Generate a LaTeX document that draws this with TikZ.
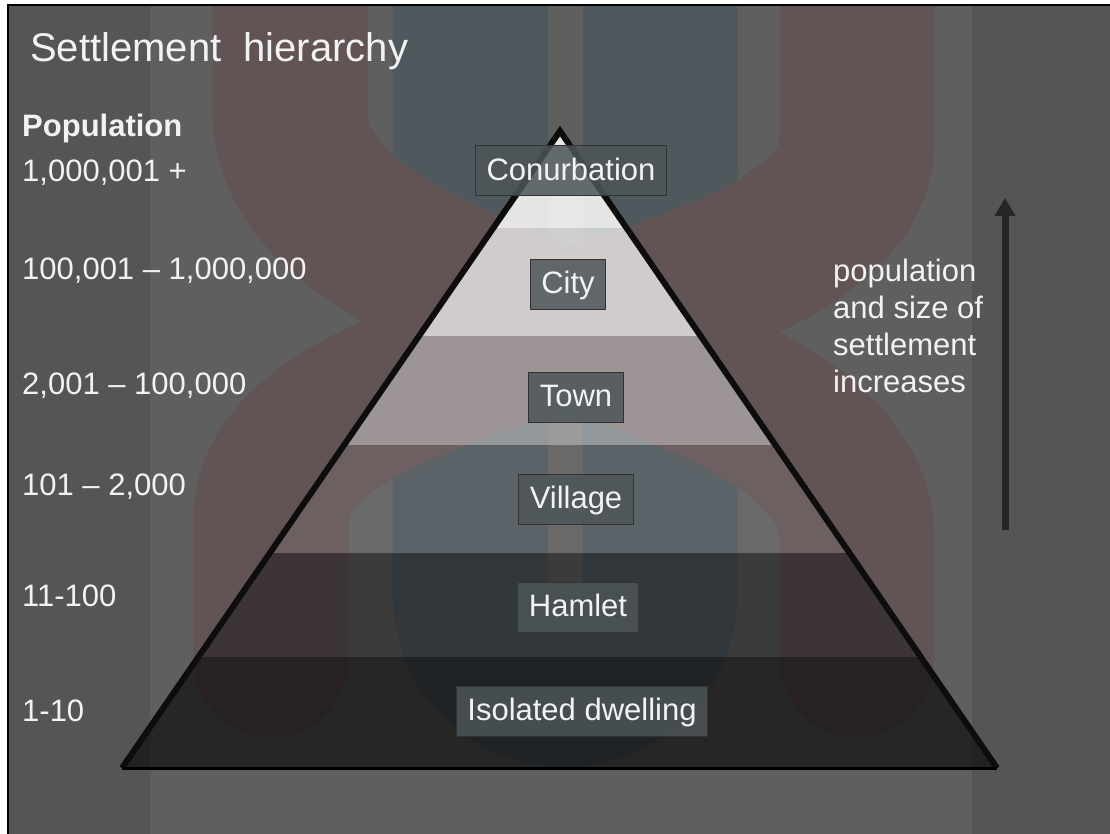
\documentclass[tikz,border=0pt]{standalone}
\usepackage{fontspec}
\setmainfont{Liberation Sans}
\usepackage{tikz}
\usetikzlibrary{
    arrows.meta,
    calc,
    positioning
}
\definecolor{slide}{HTML}{5F5F5F}
\definecolor{slideedge}{HTML}{555555}
\definecolor{ribbonred}{HTML}{625454}
\definecolor{ribbonblue}{HTML}{4F585D}
\definecolor{labelbox}{HTML}{4D5559}
\definecolor{paper}{HTML}{F2F2F2}
\tikzset{
    settle/.style={draw=black!80, line width=1pt, fill=labelbox, fill opacity=0.85, text opacity=1,
        text=paper, font=\fontsize{31}{37}\selectfont, inner xsep=11pt, inner ysep=0pt,
        text height=22pt, text depth=3pt, minimum height=50pt},
    poplabel/.style={anchor=base west, inner sep=0pt, text=paper, font=\fontsize{31}{37}\selectfont},
    ribbon/.style={line width=155pt, line cap=round}
}
\newcommand{\band}[3]{
    \fill[#3] (100,#1) rectangle (1010,#2);
}

\begin{document}
\begin{tikzpicture}[x=1pt, y=-1pt]
    \useasboundingbox (0,0) rectangle (1110,834);
    \fill[white] (0,0) rectangle (1110,834);
    \fill[slide] (8,5) rectangle (1110,834);
    \fill[slideedge] (8,5) rectangle (150,834) (972,5) rectangle (1110,834);
    \begin{scope}
        \clip (8,5) rectangle (1110,834);
        \draw[ribbon, ribbonblue, line cap=butt] (470,-10) -- (470,595) arc[start angle=180, end angle=0, radius=95] -- (660,-10);
        \draw[ribbon, ribbonred] (857,660) -- (857,540) .. controls (857,330) and (290,330) .. (290,110) -- (290,-10);
        \draw[ribbon, ribbonred] (271,660) -- (271,520) .. controls (271,330) and (857,330) .. (857,140) -- (857,-10);
    \end{scope}
    \draw[line width=2pt] (8,836) -- (8,5) -- (1112,5);

    \coordinate (apex) at (560,131);
    \coordinate (baseL) at (122,768);
    \coordinate (baseR) at (997,768);
    \begin{scope}
        \clip (apex) -- (baseR) -- (baseL) -- cycle;
        \band{100}{228}{white, opacity=0.85}
        \band{228}{336}{white, opacity=0.7}
        \band{336}{445}{white, opacity=0.38}
        \band{445}{553}{white, opacity=0.07}
        \band{553}{657}{black, opacity=0.37}
        \band{657}{768}{black, opacity=0.6}
    \end{scope}
    \draw[line width=6pt, line join=miter, black!95] (baseL) -- (apex) -- (baseR);
    \draw[line width=3pt] (baseL) -- (baseR);

    \node[settle] (conurb) at (571,171) {Conurbation};
    \node[settle] (city) at (568,284) {City};
    \node[settle] (town) at (576,397) {Town};
    \node[settle] (village) at (576,499) {Village};
    \node[settle] (hamlet) at (578,607) {Hamlet};
    \node[settle] (dwelling) at (582,711) {Isolated dwelling};

    \node[poplabel, font=\fontsize{40}{48}\selectfont] (title) at (30,62) {Settlement\ \ hierarchy};
    \node[poplabel, font=\fontsize{31}{37}\selectfont\bfseries] (popnote) at (22,137) {Population};
    \foreach \y/\t [count=\i] in {182/{1,000,001 +}, 279/{100,001 – 1,000,000}, 394/{2,001 – 100,000},
        495/{101 – 2,000}, 606/{11-100}, 721/{1-10}}
        \node[poplabel] (pop\i) at (22,\y) {\t};

    \node[poplabel, align=left] (trend) at (833,392) {population\\and size of\\settlement\\increases};
    \coordinate (growfoot) at (1005,530);
    \coordinate (growtip) at (1005,198);
    \draw[line width=7pt, black!85, -{Triangle[width=20pt, length=18pt]}] (growfoot) -- (growtip);
\end{tikzpicture}
\end{document}
